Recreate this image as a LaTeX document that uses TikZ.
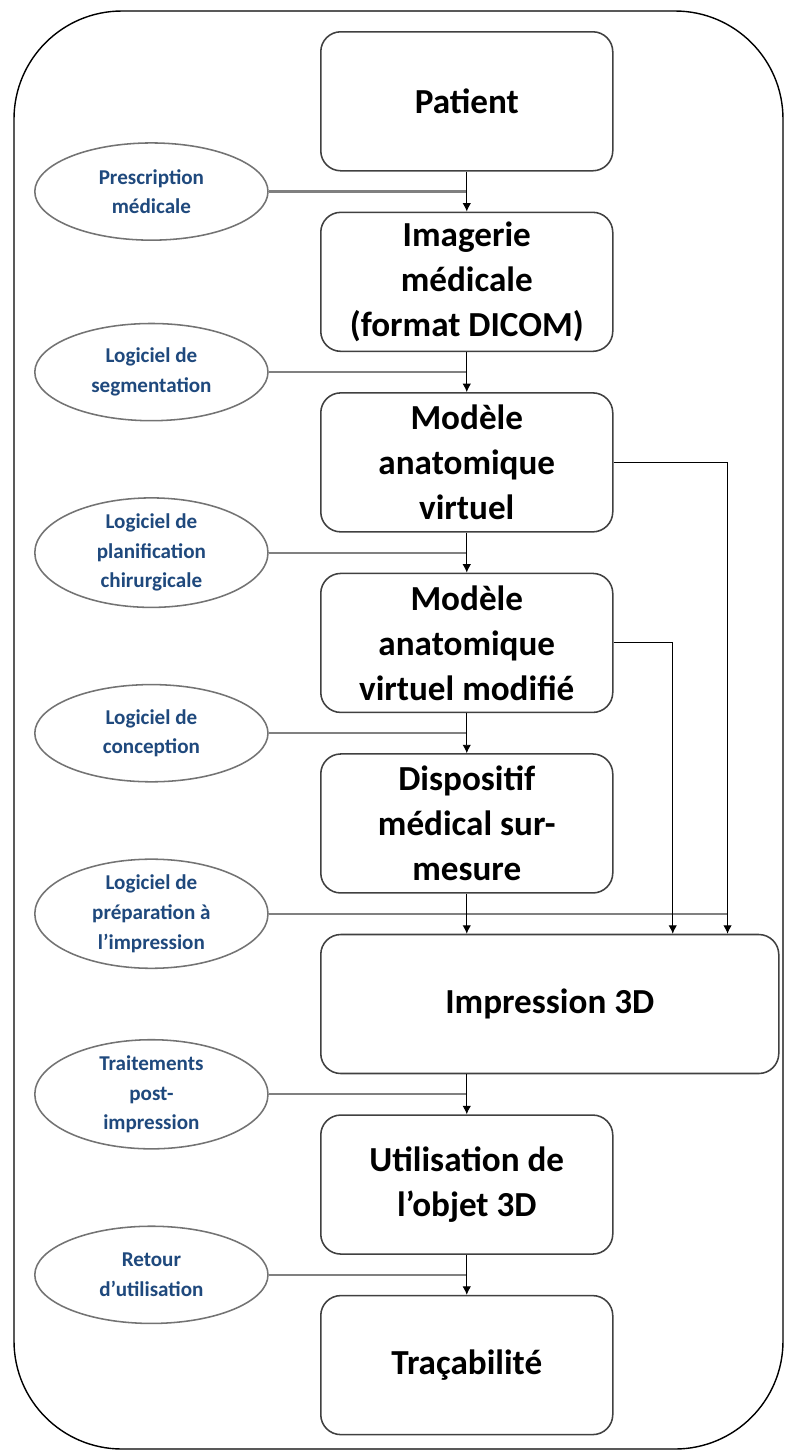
\documentclass[tikz,border=0pt]{standalone}
\usepackage{fontspec}
\setmainfont{Carlito}
\usetikzlibrary{shapes.geometric, arrows.meta, positioning, calc}
\definecolor{outilbleu}{RGB}{31,73,125}
\tikzset{
	etape/.style={draw=black!75, line width=1.1pt, rounded corners=0.5cm, fill=white, minimum width=7.3cm, minimum height=3.475cm, align=center, font=\fontsize{25}{32}\selectfont\bfseries},
	outil/.style={draw=black!55, line width=1.1pt, ellipse, fill=white, minimum width=5.83cm, minimum height=2.43cm, inner sep=0pt, align=center, text=outilbleu, font=\fontsize{15}{21}\selectfont\bfseries},
	fleche/.style={-{Latex[length=6pt,width=6pt]}, line width=0.7pt},
	lien/.style={draw=black!50, line width=1.5pt}
}

\begin{document}
\begin{tikzpicture}
	\useasboundingbox (0,0) rectangle (19.65,-36.3);
	\draw[line width=1pt, rounded corners=2.7cm] (0.35,-0.275) rectangle (19.575,-36.225);
	% chaine principale
	\node[etape, anchor=north west] (patient) at (8,-0.775) {Patient};
	\node[etape, below=1cm of patient] (imagerie) {Imagerie\\médicale\\(format DICOM)};
	\node[etape, below=1cm of imagerie] (mav) {Modèle\\anatomique\\virtuel};
	\node[etape, below=1cm of mav] (mavm) {Modèle\\anatomique\\virtuel modifié};
	\node[etape, below=1cm of mavm] (disp) {Dispositif\\médical sur-\\mesure};
	\node[etape, minimum width=11.45cm, below right=1cm and 0cm of disp.south west] (impr) {Impression 3D};
	\node[etape, below right=1cm and 0cm of impr.south west] (util) {Utilisation de\\l’objet 3D};
	\node[etape, below=1cm of util] (trac) {Traçabilité};
	\coordinate (g1) at ($(patient.south)!.5!(imagerie.north)$);
	\coordinate (g2) at ($(imagerie.south)!.5!(mav.north)$);
	\coordinate (g3) at ($(mav.south)!.5!(mavm.north)$);
	\coordinate (g4) at ($(mavm.south)!.5!(disp.north)$);
	\coordinate (g5) at ($(disp.south)!.5!(disp.south |- impr.north)$);
	\coordinate (g6) at ($(util.north |- impr.south)!.5!(util.north)$);
	\coordinate (g7) at ($(util.south)!.5!(trac.north)$);
	\coordinate[right=2.85cm of mav.east] (c1);
	\coordinate[right=1.48cm of mavm.east] (c2);
	% logiciels et entrees
	\node[outil, left=4.95cm of g1] (presc) {Prescription\\médicale};
	\node[outil, left=4.95cm of g2] (segm) {Logiciel de\\segmentation};
	\node[outil, left=4.95cm of g3] (plan) {Logiciel de\\planification\\chirurgicale};
	\node[outil, left=4.95cm of g4] (conc) {Logiciel de\\conception};
	\node[outil, left=4.95cm of g5] (prep) {Logiciel de\\préparation à\\l’impression};
	\node[outil, left=4.95cm of g6] (post) {Traitements\\post-\\impression};
	\node[outil, left=4.95cm of g7] (retour) {Retour\\d’utilisation};
	\draw[lien] (presc) -- (g1);
	\draw[lien] (segm) -- (g2);
	\draw[lien] (plan) -- (g3);
	\draw[lien] (conc) -- (g4);
	\draw[lien] (prep) -- (g5 -| c1);
	\draw[lien] (post) -- (g6);
	\draw[lien] (retour) -- (g7);
	% fleches
	\draw[fleche] (patient) -- (imagerie);
	\draw[fleche] (imagerie) -- (mav);
	\draw[fleche] (mav) -- (mavm);
	\draw[fleche] (mavm) -- (disp);
	\draw[fleche] (disp) -- (disp |- impr.north);
	\draw[fleche] (mav.east) -- (c1) -- (c1 |- impr.north);
	\draw[fleche] (mavm.east) -- (c2) -- (c2 |- impr.north);
	\draw[fleche] (util |- impr.south) -- (util);
	\draw[fleche] (util) -- (trac);
\end{tikzpicture}
\end{document}
